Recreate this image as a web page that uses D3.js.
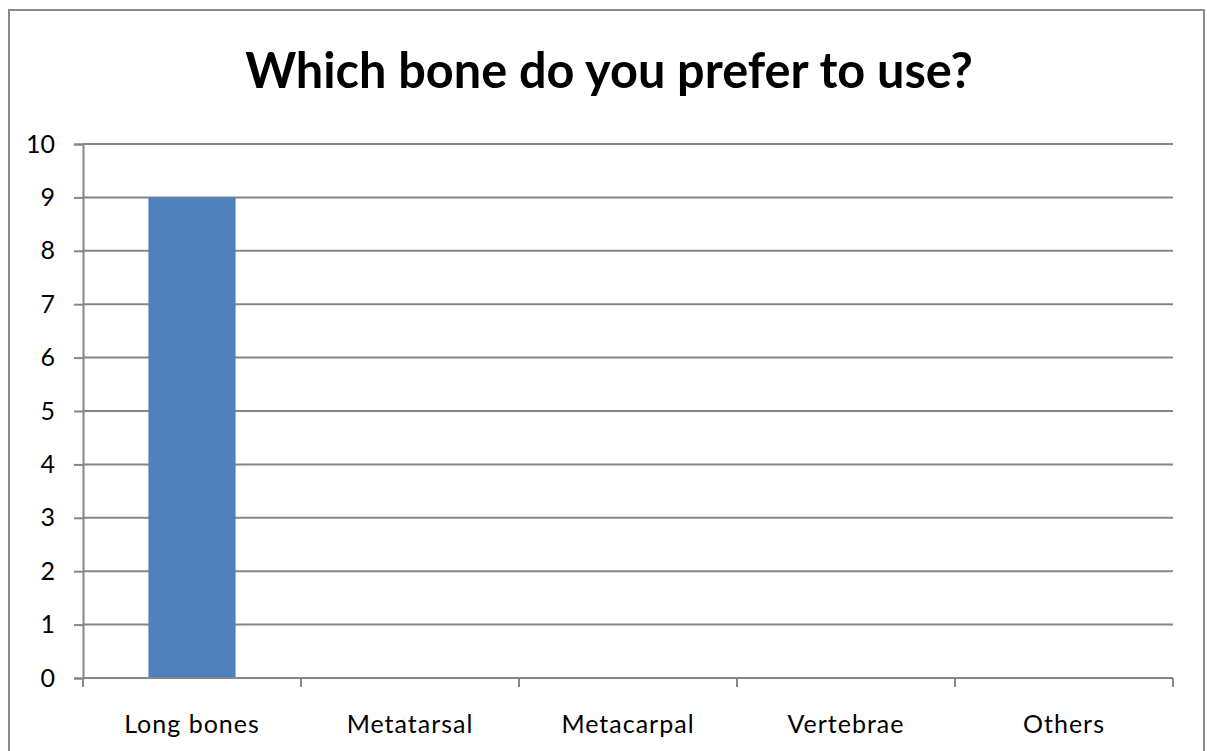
<!DOCTYPE html>
<html>
<head>
<meta charset="utf-8">
<script src="https://cdn.jsdelivr.net/npm/d3@7"></script>
<style>
  html, body { margin: 0; padding: 0; background: #fff; }
  svg { display: block; }
</style>
</head>
<body>
<svg id="chart" width="1207" height="751"></svg>
<script>
// Survey answers: which bone is preferred
const categories = ["Long bones", "Metatarsal", "Metacarpal", "Vertebrae", "Others"];
const counts = [9, 0, 0, 0, 0];
const yTicks = [0, 1, 2, 3, 4, 5, 6, 7, 8, 9, 10];
const titleText = "Which bone do you prefer to use?";

const svg = d3.select("#chart");
const W = 1207, H = 751;
const plot = { left: 83, right: 1173, top: 144, bottom: 678 };
const gridColor = "#868686";
const fontFamily = "Lato, 'Open Sans', 'Liberation Sans', sans-serif";

// Outer chart frame
svg.append("rect")
  .attr("x", 9).attr("y", 10)
  .attr("width", 1195).attr("height", H + 20)
  .attr("fill", "#fff")
  .attr("stroke", "#8a8a8a").attr("stroke-width", 2);

const x = d3.scaleBand()
  .domain(categories)
  .range([plot.left, plot.right])
  .paddingInner(0.6)
  .paddingOuter(0.3);

const y = d3.scaleLinear()
  .domain([0, 10])
  .range([plot.bottom, plot.top]);

// Horizontal gridlines
svg.append("g")
  .selectAll("line")
  .data(yTicks)
  .join("line")
  .attr("x1", plot.left).attr("x2", plot.right)
  .attr("y1", d => y(d)).attr("y2", d => y(d))
  .attr("stroke", gridColor).attr("stroke-width", 2);

// Bars
svg.append("g")
  .selectAll("rect")
  .data(categories.map((c, i) => ({ c, v: counts[i] })))
  .join("rect")
  .attr("x", d => x(d.c))
  .attr("width", x.bandwidth())
  .attr("y", d => y(d.v))
  .attr("height", d => y(0) - y(d.v))
  .attr("fill", "#4F81BD");

// Y axis
const yAxis = svg.append("g")
  .attr("transform", `translate(${plot.left},0)`)
  .call(d3.axisLeft(y).tickValues(yTicks).tickSize(9).tickPadding(19).tickFormat(d3.format("d")));
yAxis.select(".domain").attr("stroke", gridColor).attr("stroke-width", 2);
yAxis.selectAll(".tick line").attr("stroke", gridColor).attr("stroke-width", 2);
yAxis.selectAll(".tick text")
  .attr("font-family", fontFamily)
  .attr("font-size", 25)
  .attr("fill", "#000");

// X axis: category boundaries carry the tick marks
const xEdge = d3.scaleLinear().domain([0, categories.length]).range([plot.left, plot.right]);
const xAxisG = svg.append("g").attr("transform", `translate(0,${plot.bottom})`);
xAxisG.append("line")
  .attr("x1", plot.left).attr("x2", plot.right)
  .attr("stroke", gridColor).attr("stroke-width", 2);
xAxisG.selectAll("line.edge")
  .data(d3.range(categories.length + 1))
  .join("line")
  .attr("class", "edge")
  .attr("x1", d => xEdge(d)).attr("x2", d => xEdge(d))
  .attr("y1", 0).attr("y2", 9)
  .attr("stroke", gridColor).attr("stroke-width", 2);
xAxisG.selectAll("text")
  .data(categories)
  .join("text")
  .attr("x", d => x(d) + x.bandwidth() / 2)
  .attr("y", 55)
  .attr("text-anchor", "middle")
  .attr("font-family", fontFamily)
  .attr("font-size", 25)
  .attr("letter-spacing", 1)
  .attr("fill", "#000")
  .text(d => d);

// Title: tall bold type, condensed horizontally to span its line
const titleG = svg.append("g").attr("transform", "translate(609,88)");
const title = titleG.append("text")
  .attr("x", 0).attr("y", 0)
  .attr("text-anchor", "middle")
  .attr("font-family", fontFamily)
  .attr("font-weight", "bold")
  .attr("font-size", 49)
  .attr("fill", "#000")
  .text(titleText);
const tw = title.node().getComputedTextLength();
titleG.attr("transform", `translate(609,88) scale(${728 / tw},1)`);
</script>
</body>
</html>
